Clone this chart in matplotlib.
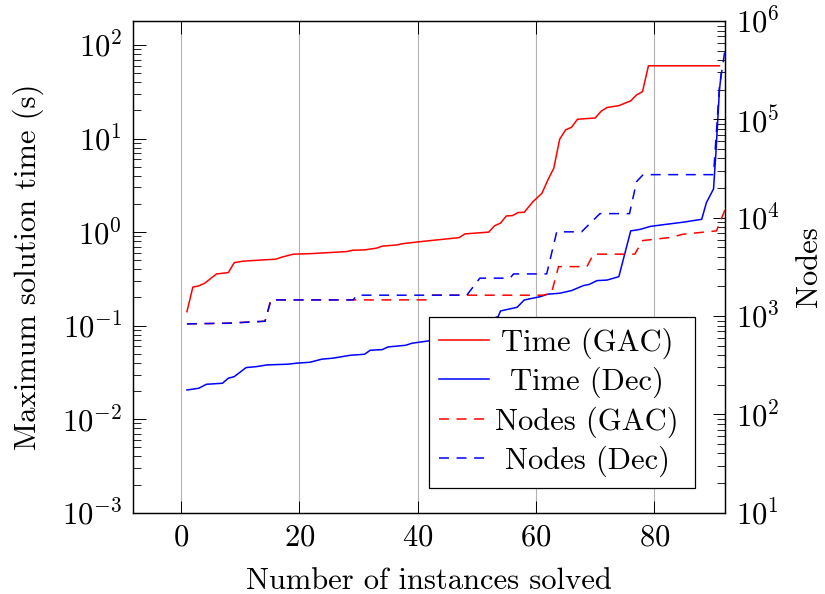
import numpy as np
import matplotlib
matplotlib.use("Agg")
import matplotlib.pyplot as plt

plt.rcParams['font.family'] = 'serif'
plt.rcParams['font.serif'] = ['cmr10']
plt.rcParams['mathtext.fontset'] = 'cm'
plt.rcParams['axes.formatter.use_mathtext'] = True
plt.rcParams['font.size'] = 22

# Données
time_gac_x = [1, 2, 3, 4, 6, 8, 9, 10.5, 14, 16, 17, 19, 22, 25, 28, 29, 31, 33, 34, 36.5,
              37.5, 40, 42, 47, 48, 52, 53, 54, 55, 56, 57, 58, 59.5, 61, 62, 63, 64, 65,
              66, 67, 70, 71, 72, 74, 76, 77, 78, 79, 91]
time_gac = [0.141, 0.258, 0.266, 0.284, 0.357, 0.369, 0.472, 0.489, 0.505, 0.513, 0.539,
            0.581, 0.589, 0.604, 0.619, 0.64, 0.645, 0.673, 0.707, 0.73, 0.753, 0.785, 0.81,
            0.873, 0.957, 1.0, 1.17, 1.25, 1.49, 1.5, 1.62, 1.63, 2.12, 2.6, 3.61, 4.82,
            9.86, 12.4, 13.2, 16.1, 16.6, 19.6, 21.5, 22.5, 25.3, 29.3, 31.8, 60, 60]

time_dec_x = [1, 3, 4.3, 7, 8, 9, 11, 12.8, 14.5, 18, 19.6, 21.8, 23.8, 25.7, 28.6, 31, 32,
              34, 35, 38, 39, 41.8, 53.6, 54, 56.8, 58, 60.7, 62, 64, 66, 68, 69, 70.3, 72,
              74, 76, 77.6, 79.3, 81.5, 85, 88, 88.8, 90, 90.4, 91, 91.3]
time_dec = [0.0205, 0.0214, 0.0236, 0.0242, 0.0274, 0.0285, 0.0356, 0.0365, 0.038, 0.0387,
            0.0397, 0.0406, 0.0438, 0.0449, 0.0482, 0.0494, 0.0546, 0.0554, 0.0592, 0.0617,
            0.0648, 0.0686, 0.125, 0.1436, 0.157, 0.188, 0.204, 0.217, 0.222, 0.237, 0.268,
            0.276, 0.303, 0.307, 0.334, 1.03, 1.07, 1.15, 1.20, 1.28, 1.37, 2.07, 2.9, 7.0,
            33, 50]

nodes_gac_x = [1, 8, 11, 14.2, 15.2, 29.1, 41.4, 42.1, 61.2, 62.6, 63.8, 68.6, 69.7, 76.7,
               78, 82.6, 84.9, 90.5, 91.9]
nodes_gac = [832, 845, 865, 885, 1459, 1459, 1459, 1629, 1629, 1706, 3180, 3180, 4260, 4260,
             5850, 6280, 6800, 7340, 11900]

nodes_dec_x = [1, 8, 11, 14.2, 15.2, 29.1, 29.7, 48.3, 50.5, 55.6, 56.2, 61.8, 63.5, 67.7,
               70.8, 75.8, 77, 78.1, 90, 91, 92]
nodes_dec = [832, 845, 865, 885, 1459, 1459, 1629, 1629, 2427, 2427, 2680, 2680, 7180, 7180,
             11000, 11000, 23300, 27400, 27400, 214000, 540000]

fig = plt.figure(figsize=(8.25, 5.94), dpi=100)
ax = fig.add_axes([0.1616, 0.1369, 0.7172, 0.8277])
ax2 = ax.twinx()

lw = 1.1
dash = (6.5, 5)
l1, = ax.plot(time_gac_x, time_gac, color='red', lw=lw, label='Time (GAC)')
l2, = ax.plot(time_dec_x, time_dec, color='blue', lw=lw, label='Time (Dec)')
l3, = ax2.plot(nodes_gac_x, nodes_gac, color='red', lw=lw, dashes=dash, label='Nodes (GAC)')
l4, = ax2.plot(nodes_dec_x, nodes_dec, color='blue', lw=lw, dashes=dash, label='Nodes (Dec)')

ax.set_yscale('log')
ax2.set_yscale('log')
ax.set_xlim(-8.06, 91.94)
ax.set_ylim(1e-3, 10 ** 2.257)
ax2.set_ylim(10, 1e6)
ax.set_xticks([0, 20, 40, 60, 80])
ax.grid(True, axis='x', color='#b3b3b3', lw=0.8)
ax.grid(False, axis='y')

for a in (ax, ax2):
    for s in a.spines.values():
        s.set_linewidth(0.9)
ax.tick_params(which='major', direction='in', length=9, width=0.7, pad=8, top=True,
               right=False)
ax.tick_params(which='minor', direction='in', length=6, width=0.6, right=False)
ax.tick_params(axis='x', which='minor', bottom=False, top=False)
ax2.tick_params(which='major', direction='in', length=9, width=0.7, pad=8)
ax2.tick_params(which='minor', direction='in', length=6, width=0.6)

ax.set_xlabel('Number of instances solved', labelpad=12)
ax.set_ylabel('Maximum solution time (s)', labelpad=13)
ax2.set_ylabel('Nodes', labelpad=11)

leg = ax2.legend(handles=[l1, l2, l3, l4], loc='lower right', fancybox=False,
                 edgecolor='black', framealpha=1, borderaxespad=0.0,
                 bbox_to_anchor=(0.95, 0.051), handlelength=1.62, labelspacing=0.26,
                 borderpad=0.34, handletextpad=0.42)
leg.get_frame().set_linewidth(0.9)

# Centre les textes de la légende
fig.canvas.draw()
r = fig.canvas.get_renderer()
widths = [t.get_window_extent(r).width for t in leg.get_texts()]
wmax = max(widths)
for t, w in zip(leg.get_texts(), widths):
    t.set_x((wmax - w) / 2 - 6)

fig.savefig('out.png', dpi=100)
